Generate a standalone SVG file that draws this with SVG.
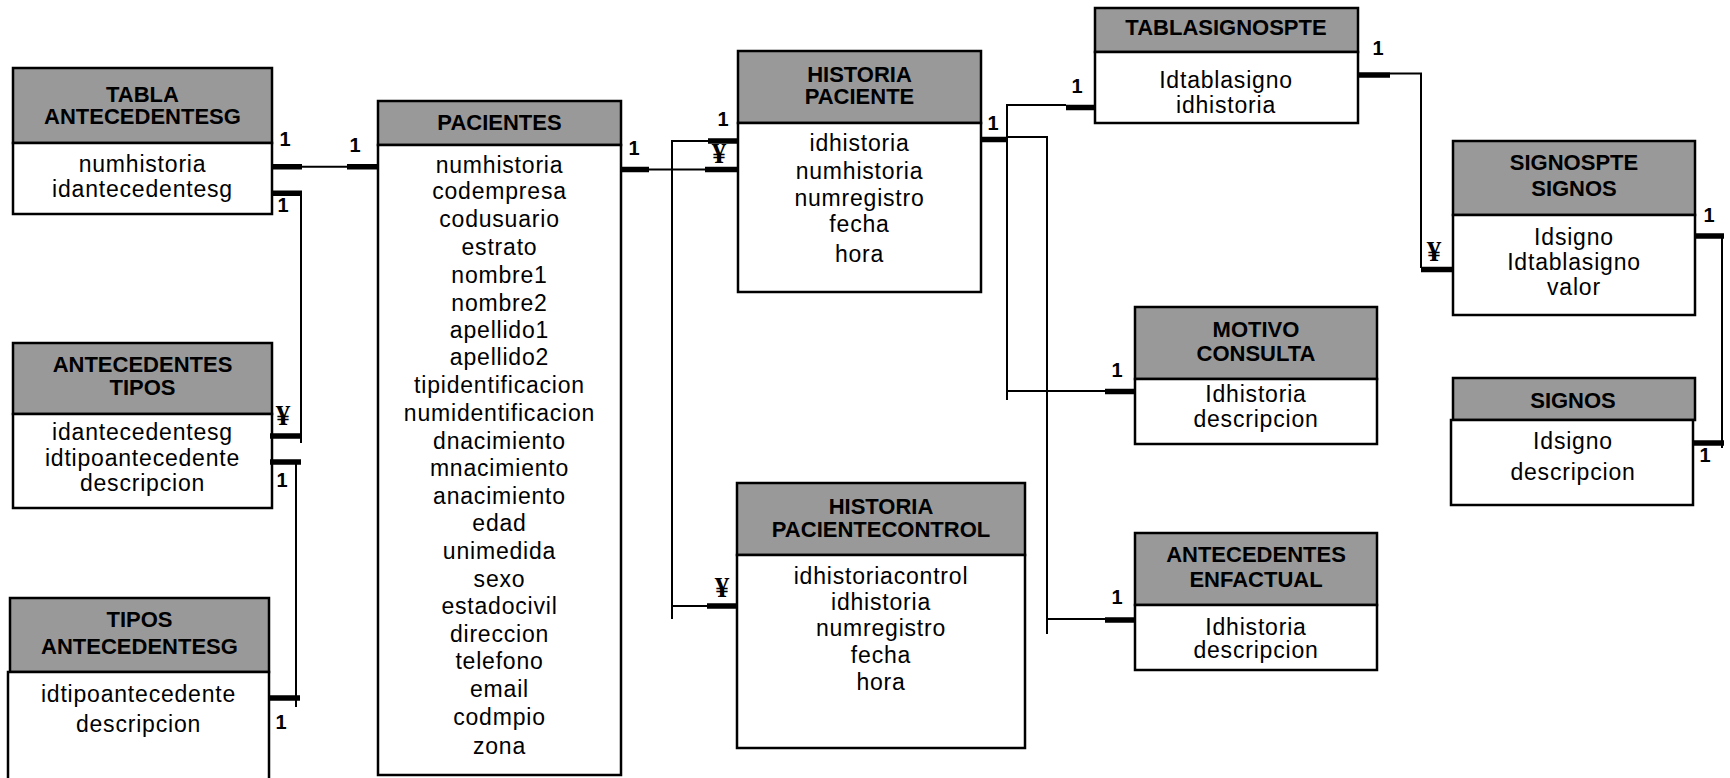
<svg xmlns="http://www.w3.org/2000/svg" width="1730" height="778" viewBox="0 0 1730 778">
  <style>
    .hd { fill: #999999; stroke: #000; stroke-width: 2.5; }
    .bd { fill: #ffffff; stroke: #000; stroke-width: 2.5; }
    .ht { font-family: "Liberation Sans", Arial, sans-serif; font-weight: bold; font-size: 22px; text-anchor: middle; fill: #000; }
    .ft { font-family: "Liberation Sans", Arial, sans-serif; font-size: 23px; letter-spacing: 0.8px; text-anchor: middle; fill: #000; }
    .ln { fill: none; stroke: #000; stroke-width: 2; }
    .tk { fill: none; stroke: #000; stroke-width: 5.5; }
    .one { font-family: "Liberation Sans", Arial, sans-serif; font-weight: bold; font-size: 20px; text-anchor: middle; fill: #000; }
    .many { font-family: "Liberation Serif", "Times New Roman", serif; font-weight: bold; font-size: 29px; text-anchor: middle; fill: #000; }
  </style>

  <rect width="1730" height="778" fill="#ffffff"/>

  <!-- Tables -->
  <g id="tabla-antecedentesg">
    <rect class="hd" x="13" y="68" width="259" height="75"/>
    <rect class="bd" x="13" y="143" width="259" height="71"/>
    <text class="ht" x="142.5" y="102">TABLA</text>
    <text class="ht" x="142.5" y="124">ANTECEDENTESG</text>
    <text class="ft" x="142.5" y="171.5">numhistoria</text>
    <text class="ft" x="142.5" y="196.5">idantecedentesg</text>
  </g>

  <g id="antecedentes-tipos">
    <rect class="hd" x="13" y="343" width="259" height="71"/>
    <rect class="bd" x="13" y="414" width="259" height="94"/>
    <text class="ht" x="142.5" y="372">ANTECEDENTES</text>
    <text class="ht" x="142.5" y="395">TIPOS</text>
    <text class="ft" x="142.5" y="440">idantecedentesg</text>
    <text class="ft" x="142.5" y="466">idtipoantecedente</text>
    <text class="ft" x="142.5" y="491">descripcion</text>
  </g>

  <g id="tipos-antecedentesg">
    <rect class="hd" x="10" y="598" width="259" height="74"/>
    <rect class="bd" x="8" y="672" width="261" height="130"/>
    <text class="ht" x="139.5" y="627">TIPOS</text>
    <text class="ht" x="139.5" y="653.5">ANTECEDENTESG</text>
    <text class="ft" x="138.5" y="701.5">idtipoantecedente</text>
    <text class="ft" x="138.5" y="731.5">descripcion</text>
  </g>

  <g id="pacientes">
    <rect class="hd" x="378" y="101" width="243" height="44"/>
    <rect class="bd" x="378" y="145" width="243" height="630"/>
    <text class="ht" x="499.5" y="130">PACIENTES</text>
    <text class="ft" x="499.5" y="172.5">numhistoria</text>
    <text class="ft" x="499.5" y="198.5">codempresa</text>
    <text class="ft" x="499.5" y="226.5">codusuario</text>
    <text class="ft" x="499.5" y="255">estrato</text>
    <text class="ft" x="499.5" y="282.5">nombre1</text>
    <text class="ft" x="499.5" y="310.5">nombre2</text>
    <text class="ft" x="499.5" y="337.5">apellido1</text>
    <text class="ft" x="499.5" y="365">apellido2</text>
    <text class="ft" x="499.5" y="392.5">tipidentificacion</text>
    <text class="ft" x="499.5" y="420.5">numidentificacion</text>
    <text class="ft" x="499.5" y="448.5">dnacimiento</text>
    <text class="ft" x="499.5" y="475.5">mnacimiento</text>
    <text class="ft" x="499.5" y="503.5">anacimiento</text>
    <text class="ft" x="499.5" y="530.5">edad</text>
    <text class="ft" x="499.5" y="559">unimedida</text>
    <text class="ft" x="499.5" y="586.5">sexo</text>
    <text class="ft" x="499.5" y="613.5">estadocivil</text>
    <text class="ft" x="499.5" y="641.5">direccion</text>
    <text class="ft" x="499.5" y="668.5">telefono</text>
    <text class="ft" x="499.5" y="696.5">email</text>
    <text class="ft" x="499.5" y="724.5">codmpio</text>
    <text class="ft" x="499.5" y="754">zona</text>
  </g>

  <g id="historia-paciente">
    <rect class="hd" x="738" y="51" width="243" height="72"/>
    <rect class="bd" x="738" y="123" width="243" height="169"/>
    <text class="ht" x="859.5" y="82">HISTORIA</text>
    <text class="ht" x="859.5" y="104">PACIENTE</text>
    <text class="ft" x="859.5" y="151">idhistoria</text>
    <text class="ft" x="859.5" y="178.5">numhistoria</text>
    <text class="ft" x="859.5" y="205.5">numregistro</text>
    <text class="ft" x="859.5" y="231.5">fecha</text>
    <text class="ft" x="859.5" y="261.5">hora</text>
  </g>

  <g id="historia-pacientecontrol">
    <rect class="hd" x="737" y="483" width="288" height="72"/>
    <rect class="bd" x="737" y="555" width="288" height="193"/>
    <text class="ht" x="881" y="513.5">HISTORIA</text>
    <text class="ht" x="881" y="537">PACIENTECONTROL</text>
    <text class="ft" x="881" y="583.5">idhistoriacontrol</text>
    <text class="ft" x="881" y="610">idhistoria</text>
    <text class="ft" x="881" y="635.5">numregistro</text>
    <text class="ft" x="881" y="662.5">fecha</text>
    <text class="ft" x="881" y="690">hora</text>
  </g>

  <g id="tablasignospte">
    <rect class="hd" x="1095" y="8" width="263" height="44"/>
    <rect class="bd" x="1095" y="52" width="263" height="71"/>
    <text class="ht" x="1226" y="35">TABLASIGNOSPTE</text>
    <text class="ft" x="1226" y="88">Idtablasigno</text>
    <text class="ft" x="1226" y="113">idhistoria</text>
  </g>

  <g id="signospte-signos">
    <rect class="hd" x="1453" y="141" width="242" height="74"/>
    <rect class="bd" x="1453" y="215" width="242" height="100"/>
    <text class="ht" x="1574" y="170">SIGNOSPTE</text>
    <text class="ht" x="1574" y="196">SIGNOS</text>
    <text class="ft" x="1574" y="245">Idsigno</text>
    <text class="ft" x="1574" y="270">Idtablasigno</text>
    <text class="ft" x="1574" y="295">valor</text>
  </g>

  <g id="motivo-consulta">
    <rect class="hd" x="1135" y="307" width="242" height="72"/>
    <rect class="bd" x="1135" y="379" width="242" height="65"/>
    <text class="ht" x="1256" y="337">MOTIVO</text>
    <text class="ht" x="1256" y="361">CONSULTA</text>
    <text class="ft" x="1256" y="401.5">Idhistoria</text>
    <text class="ft" x="1256" y="427">descripcion</text>
  </g>

  <g id="antecedentes-enfactual">
    <rect class="hd" x="1135" y="533" width="242" height="72"/>
    <rect class="bd" x="1135" y="605" width="242" height="65"/>
    <text class="ht" x="1256" y="562">ANTECEDENTES</text>
    <text class="ht" x="1256" y="587">ENFACTUAL</text>
    <text class="ft" x="1256" y="635">Idhistoria</text>
    <text class="ft" x="1256" y="658">descripcion</text>
  </g>

  <g id="signos">
    <rect class="hd" x="1453" y="378" width="242" height="42"/>
    <rect class="bd" x="1451" y="420" width="242" height="85"/>
    <text class="ht" x="1573" y="407.5">SIGNOS</text>
    <text class="ft" x="1573" y="449">Idsigno</text>
    <text class="ft" x="1573" y="480">descripcion</text>
  </g>

  <!-- Relationships -->
  <g id="connectors">
    <!-- TABLA ANTECEDENTESG - PACIENTES -->
    <path class="ln" d="M302 166.7 H347"/>
    <path class="tk" d="M272 166.7 H302 M347 166.7 H378"/>
    <text class="one" x="285" y="146">1</text>
    <text class="one" x="355" y="152">1</text>

    <!-- TABLA ANTECEDENTESG - ANTECEDENTES TIPOS -->
    <path class="ln" d="M301 193 V443"/>
    <path class="tk" d="M272 193.3 H302 M270 436 H301"/>
    <text class="one" x="283" y="212">1</text>
    <text class="many" x="283" y="425">¥</text>

    <!-- ANTECEDENTES TIPOS - TIPOS ANTECEDENTESG -->
    <path class="ln" d="M296 462 V707"/>
    <path class="tk" d="M270 462 H301 M268 698 H300"/>
    <text class="one" x="282" y="487">1</text>
    <text class="one" x="281" y="728.5">1</text>

    <!-- PACIENTES - HISTORIA PACIENTE -->
    <path class="ln" d="M649 169.5 H705"/>
    <path class="tk" d="M620 169.5 H649 M705 169.5 H737"/>
    <text class="one" x="634" y="155">1</text>
    <text class="many" x="719" y="163">¥</text>

    <!-- HISTORIA PACIENTE - HISTORIA PACIENTECONTROL -->
    <path class="ln" d="M708 141 H672 V619 M672 606 H707"/>
    <path class="tk" d="M708 141 H738 M707 606 H737"/>
    <text class="one" x="723" y="125.5">1</text>
    <text class="many" x="722" y="597">¥</text>

    <!-- HISTORIA PACIENTE - TABLASIGNOSPTE / MOTIVO CONSULTA -->
    <path class="ln" d="M1066 105 H1007 V400 M1007 391 H1105"/>
    <path class="tk" d="M981 139.5 H1008 M1066 107.5 H1095 M1105 391.5 H1135"/>
    <text class="one" x="993" y="129.5">1</text>
    <text class="one" x="1077" y="92.5">1</text>
    <text class="one" x="1117" y="377">1</text>

    <!-- HISTORIA PACIENTE - ANTECEDENTES ENFACTUAL -->
    <path class="ln" d="M1008 137 H1047 V634 M1047 619 H1105"/>
    <path class="tk" d="M1105 620 H1135"/>
    <text class="one" x="1117" y="603.5">1</text>

    <!-- TABLASIGNOSPTE - SIGNOSPTE SIGNOS -->
    <path class="ln" d="M1390 73.5 H1421 V268"/>
    <path class="tk" d="M1358 75 H1390 M1421 269.5 H1453"/>
    <text class="one" x="1378" y="55">1</text>
    <text class="many" x="1434" y="261">¥</text>

    <!-- SIGNOSPTE SIGNOS - SIGNOS -->
    <path class="ln" d="M1722 236 V448"/>
    <path class="tk" d="M1695 236 H1724 M1693 443 H1724"/>
    <text class="one" x="1709" y="222">1</text>
    <text class="one" x="1705" y="462">1</text>
  </g>
</svg>
